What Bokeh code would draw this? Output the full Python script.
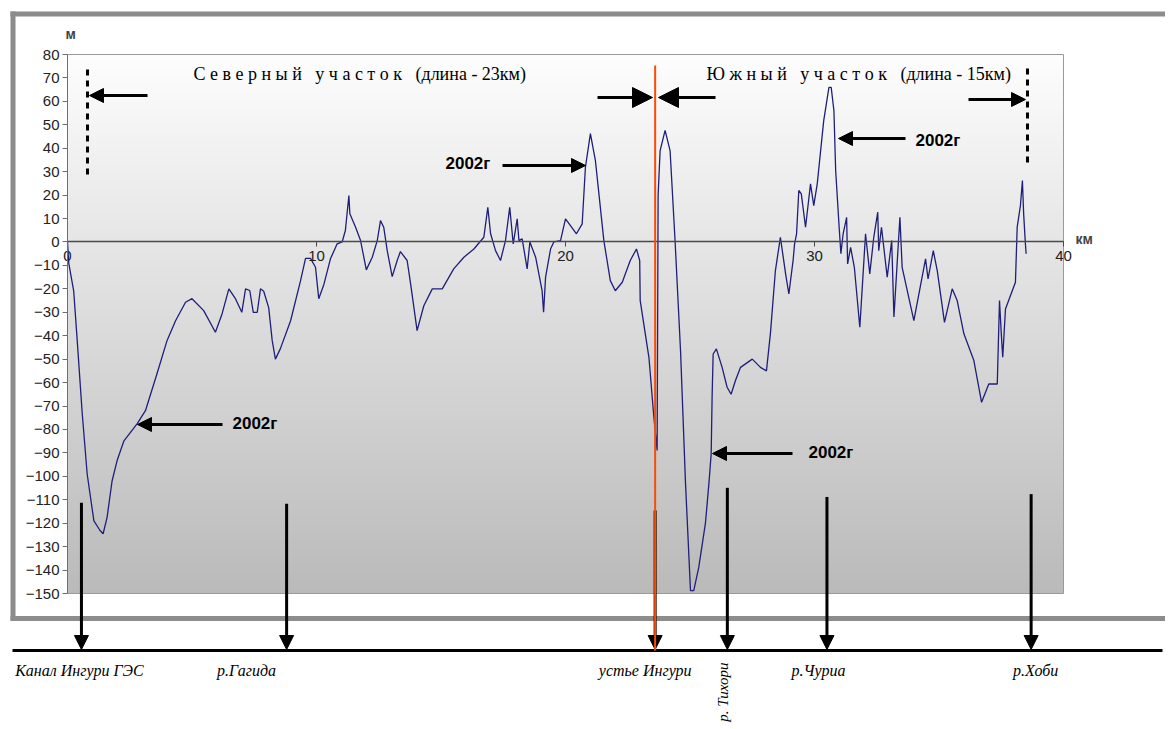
import numpy as np
from bokeh.plotting import figure
from bokeh.models import Range1d, Arrow, NormalHead, Label, FixedTicker
from bokeh.embed import file_html
from bokeh.resources import INLINE

# ---------------- data ----------------
distance_km = [
    0, 0.05, 0.25, 0.39, 0.59, 0.79, 1.06, 1.3, 1.43, 1.59,
    1.79, 2.0, 2.26, 2.8, 3.13, 3.6, 4.0, 4.34, 4.74, 5.0,
    5.47, 5.94, 6.21, 6.48, 6.75, 7.0, 7.15, 7.32, 7.46, 7.62,
    7.75, 7.88, 8.08, 8.22, 8.35, 8.55, 8.96, 9.36, 9.56, 9.76,
    9.96, 10.09, 10.3, 10.56, 10.83, 11.03, 11.16, 11.3, 11.34, 11.57,
    11.77, 12.0, 12.24, 12.44, 12.57, 12.7, 12.84, 13.04, 13.24, 13.37,
    13.64, 13.78, 14.04, 14.31, 14.65, 15.05, 15.51, 15.92, 16.32, 16.72,
    16.88, 16.99, 17.19, 17.39, 17.59, 17.76, 17.9, 18.06, 18.13, 18.26,
    18.46, 18.57, 18.8, 19.06, 19.12, 19.2, 19.4, 19.53, 19.8, 20.0,
    20.2, 20.44, 20.67, 20.8, 21.0, 21.2, 21.54, 21.8, 22.0, 22.28,
    22.6, 22.85, 22.98, 23.0, 23.35, 23.55, 23.68, 23.72, 23.8, 24.0,
    24.2, 24.4, 24.62, 24.82, 25.02, 25.15, 25.35, 25.62, 25.76, 25.85,
    25.89, 25.93, 26.06, 26.29, 26.49, 26.65, 26.83, 27.03, 27.5, 27.83,
    28.07, 28.23, 28.43, 28.63, 28.84, 28.97, 29.14, 29.2, 29.28, 29.37,
    29.47, 29.64, 29.84, 29.97, 30.11, 30.37, 30.58, 30.67, 30.78, 30.85,
    30.99, 31.06, 31.15, 31.29, 31.33, 31.45, 31.6, 31.82, 32.05, 32.22,
    32.38, 32.54, 32.58, 32.69, 32.92, 33.1, 33.19, 33.43, 33.52, 33.99,
    34.46, 34.56, 34.77, 34.93, 35.22, 35.53, 35.73, 36.0, 36.4, 36.71,
    37.0, 37.34, 37.43, 37.51, 37.56, 37.67, 38.07, 38.14, 38.27, 38.35,
    38.4, 38.47, 38.5,
]
depth_m = [
    0, -9, -21, -42, -73, -99, -119, -123, -124.5, -117.5,
    -102, -93, -85, -77.5, -72, -56, -42, -33.6, -25.7, -24.2,
    -29.3, -38.5, -30.6, -20, -24.3, -30, -20, -20.7, -30, -30,
    -20, -21, -28, -42, -50, -45.5, -33.6, -16.5, -7, -7,
    -10.8, -24.2, -18, -7.2, -0.8, 0, 4.9, 19.8, 12, 6.3,
    0.6, -11.9, -6.5, 0.6, 9.1, 6.3, -3.7, -14.8, -7.9, -4.1,
    -7.9, -17.9, -37.8, -27.2, -20, -20, -11.5, -6.5, -3, 2,
    14.8, 3.6, -3.7, -7.9, 0.6, 14.8, -0.8, 9.9, 0.6, 1.3,
    -11.5, 0, -6.5, -20.8, -30, -15, -3, 0, 0.6, 9.9,
    7, 3.5, 7.7, 31.9, 46.2, 34.8, 0.6, -16.5, -20.8, -17.2,
    -7.9, -3, -7.9, -25, -49.2, -74.9, -89, 20, 39, 47.6,
    39, 0.6, -46.4, -103, -148.8, -148.8, -139, -120, -103, -90.5,
    -65, -47.8, -45.6, -53.5, -62, -65, -59, -53.5, -50, -53.5,
    -55, -39, -12.2, 2, -13.6, -22.2, -7.9, -0.8, 3.5, 22,
    20.5, 6.3, 24.8, 15.5, 24.8, 51.8, 66, 66, 56, 30.5,
    6.3, -5, 3.5, 10.5, -9.4, -2.3, -10.8, -36.4, 3.5, -13.6,
    2, 12.7, -3.7, 6.3, -15, 0.6, -32, 10.5, -10.8, -33.6,
    -7.2, -15.8, -3.7, -12.2, -34.3, -20, -25, -39.2, -50.6, -68.4,
    -60.6, -60.6, -25, -40.7, -49.2, -28.6, -17.2, 6.3, 15.5, 26.2,
    12, -0.8, -5,
]
assert len(distance_km) == len(depth_m)

y_ticks = [80, 70, 60, 50, 40, 30, 20, 10, 0, -10, -20, -30, -40, -50, -60,
           -70, -80, -90, -100, -110, -120, -130, -140, -150]
x_ticks = [0, 10, 20, 30, 40]

river_names = ["Канал Ингури ГЭС", "р.Гагида", "устье Ингури", "р. Тихори", "р.Чуриа", "р.Хоби"]
river_km = [0.56, 8.8, 23.6, 26.5, 30.5, 38.7]
river_arrow_top_m = [-111.3, -111.7, -114.6, -104.9, -108.8, -107.6]
river_label_km = [0.48, 7.19, 23.2, None, 30.16, 38.88]

north_title = "С е в е р н ы й \u2002у ч а с т о к \u2002(длина - 23км)"
south_title = "Ю ж н ы й \u2002у ч а с т о к \u2002(длина - 15км)"
year_label = "2002г"

# ---------------- geometry ----------------
W, H = 1165, 725
FL, FR, FT, FB = 67.0, 1063.0, 54.0, 593.0   # plot-area box on the page (px)
XMIN, XMAX, YMIN, YMAX = 0.0, 40.0, -150.0, 80.0

def X(px):
    return XMIN + (px - FL) / (FR - FL) * (XMAX - XMIN)

def Y(py):
    return YMAX - (py - FT) / (FB - FT) * (YMAX - YMIN)

p = figure(width=W, height=H, x_range=Range1d(X(0), X(W)), y_range=Range1d(Y(H), Y(0)),
           output_backend="svg", toolbar_location=None,
           min_border_left=0, min_border_right=0, min_border_top=0, min_border_bottom=0)
p.background_fill_color = "white"
p.border_fill_color = "white"
p.outline_line_color = None
p.xgrid.visible = False
p.ygrid.visible = False

# gradient plot-area background
n = 230
img = np.empty((n, 1), dtype=np.uint32)
v = img.view(dtype=np.uint8).reshape((n, 1, 4))
for i in range(n):
    t = i / (n - 1)
    c = int(round(186 + (253 - 186) * t))
    v[i, 0, 0] = c
    v[i, 0, 1] = c
    v[i, 0, 2] = c
    v[i, 0, 3] = 255
p.image_rgba(image=[img], x=XMIN, y=YMIN, dw=XMAX - XMIN, dh=YMAX - YMIN)
p.quad(left=XMIN, right=XMAX, bottom=YMIN, top=YMAX, fill_color=None,
       line_color="#9a9a9a", line_width=1)

# axes drawn inside the frame at fixed locations
p.yaxis.fixed_location = XMIN
p.yaxis.bounds = (YMIN, YMAX)
p.yaxis.ticker = FixedTicker(ticks=y_ticks)
p.yaxis.minor_tick_line_color = None
p.yaxis.major_tick_in = 0
p.yaxis.major_tick_out = 5
p.yaxis.axis_line_color = "#6e6e6e"
p.yaxis.major_tick_line_color = "#6e6e6e"
p.yaxis.major_label_text_font = "Liberation Sans"
p.yaxis.major_label_text_font_size = "15px"
p.yaxis.major_label_text_color = "#222222"
p.yaxis.major_label_standoff = 3

p.xaxis.fixed_location = 0
p.xaxis.bounds = (XMIN, XMAX)
p.xaxis.ticker = FixedTicker(ticks=x_ticks)
p.xaxis.minor_tick_line_color = None
p.xaxis.major_tick_in = 0
p.xaxis.major_tick_out = 5
p.xaxis.axis_line_color = "#4a4a4a"
p.xaxis.axis_line_width = 1.5
p.xaxis.major_tick_line_color = "#4a4a4a"
p.xaxis.major_label_text_font = "Liberation Sans"
p.xaxis.major_label_text_font_size = "15px"
p.xaxis.major_label_text_color = "#222222"
p.xaxis.major_label_standoff = 4

# profile line
p.line(distance_km, depth_m, line_color="#1f1f7a", line_width=1.3)


def seg(x0, y0, x1, y1, color="black", width=3, dash="solid", head=None):
    p.add_layout(Arrow(x_start=x0, y_start=y0, x_end=x1, y_end=y1, end=head,
                       line_color=color, line_width=width, line_dash=dash))


def head(size):
    return NormalHead(size=size, fill_color="black", line_color="black", line_width=1)


# outer chart border
seg(X(12.5), Y(11), X(12.5), Y(620), color="#8c8c8c", width=5)
seg(X(10), Y(13.5), X(1180), Y(13.5), color="#8c8c8c", width=5)
seg(X(10), Y(618), X(1180), Y(618), color="#8c8c8c", width=5)

# baseline under chart
seg(X(12), Y(650), X(1162), Y(650), width=3)

# river arrows
for km, top in zip(river_km, river_arrow_top_m):
    seg(km, top, km, Y(649), width=3, head=head(14))

# red mouth line
seg(river_km[2], Y(65), river_km[2], Y(650), color="#ff4a00", width=2)

# river labels
for name, lk in zip(river_names, river_label_km):
    if lk is None:
        continue
    p.add_layout(Label(x=lk, y=Y(670), text=name, text_align="center", text_baseline="middle",
                       text_font="Liberation Serif", text_font_style="italic",
                       text_font_size="16px", text_color="black"))
p.add_layout(Label(x=X(722), y=Y(662), text=river_names[3], angle=np.pi / 2,
                   text_align="right", text_baseline="middle",
                   text_font="Liberation Serif", text_font_style="italic",
                   text_font_size="15px", text_color="black"))

# section titles
p.add_layout(Label(x=X(193), y=Y(73), text=north_title, text_align="left", text_baseline="middle",
                   text_font="Liberation Serif", text_font_size="18px", text_color="black"))
p.add_layout(Label(x=X(706), y=Y(73), text=south_title, text_align="left", text_baseline="middle",
                   text_font="Liberation Serif", text_font_size="18px", text_color="black"))

# section boundary markers
seg(X(87), Y(69), X(87), Y(175), width=3, dash="6 5")
seg(X(147), Y(95), X(89), Y(95), width=3, head=head(14))
seg(X(1027), Y(68), X(1027), Y(166), width=3, dash="6 5")
seg(X(968), Y(99), X(1025), Y(99), width=3, head=head(14))
seg(X(597), Y(97), X(652), Y(97), width=3, head=head(20))
seg(X(715), Y(97), X(658), Y(97), width=3, head=head(20))

# 2002 annotations
for tx, ty, ax0, ax1, ay in [(445, 163, 502, 585, 165),
                             (915, 140, 905, 838, 138),
                             (232, 423, 222, 137, 424),
                             (808, 452, 792, 712, 453)]:
    p.add_layout(Label(x=X(tx), y=Y(ty), text=year_label, text_align="left", text_baseline="middle",
                       text_font="Liberation Sans", text_font_style="bold",
                       text_font_size="17px", text_color="black"))
    seg(X(ax0), Y(ay), X(ax1), Y(ay), width=3, head=head(14))

# axis unit labels
p.add_layout(Label(x=X(65), y=Y(33), text="м", text_align="left", text_baseline="middle",
                   text_font="Liberation Sans", text_font_style="bold", text_font_size="14px"))
p.add_layout(Label(x=X(1075), y=Y(238), text="км", text_align="left", text_baseline="middle",
                   text_font="Liberation Sans", text_font_style="bold", text_font_size="14px"))

open("out.html", "w").write(file_html(p, INLINE))
